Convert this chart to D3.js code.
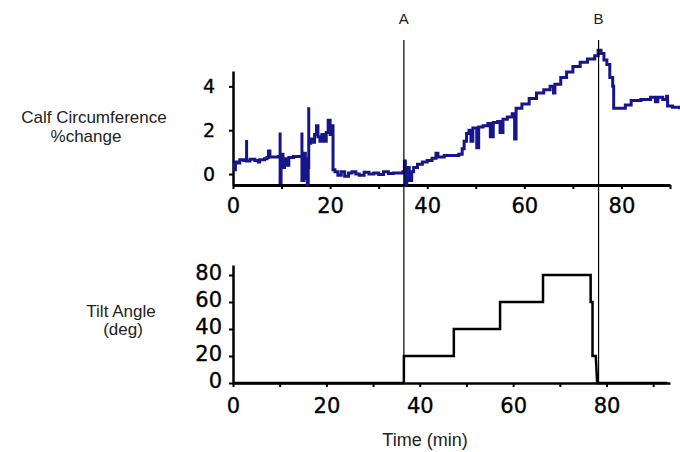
<!DOCTYPE html>
<html>
<head>
<meta charset="utf-8">
<script src="https://cdn.jsdelivr.net/npm/d3@7/dist/d3.min.js"></script>
<style>
  html, body { margin: 0; padding: 0; background: #fff; }
  .tick text { font-family: "DejaVu Sans", sans-serif; fill: #000; stroke: #000; stroke-width: 0.35px; }
  .lbl { font-family: "Liberation Sans", Arial, sans-serif; fill: #222; }
</style>
</head>
<body>
<div id="chart"></div>
<script>
// calf circumference % change vs time (min)
const calfTime = [0, 0.3, 0.5, 1.0, 1.4, 2.2, 2.8, 2.8, 2.8, 3.5, 4.5, 5.2, 5.5, 6.5, 7.0, 7.3, 7.6, 8.5, 9.4, 9.7, 9.7, 9.7,
  9.9, 10.3, 10.6, 11.0, 11.5, 12.5, 13.5, 14.2, 14.2, 14.2, 14.6, 14.9, 15.1, 15.3, 15.5, 15.6, 15.6, 16.0, 16.4, 16.8,
  17.2, 17.5, 17.9, 18.3, 18.7, 19.2, 19.6, 20.0, 20.4, 20.6, 21.0, 21.6, 22.3, 23.0, 23.8, 24.5, 25.3, 26.0, 27.0, 28.0,
  29.0, 30.0, 31.0, 32.0, 33.0, 34.0, 35.0, 35.3, 35.5, 35.8, 36.3, 36.8, 37.2, 38.0, 39.0, 40.0, 41.0, 41.8, 42.2, 43.5,
  45.0, 46.5, 47.2, 47.6, 48.1, 48.6, 49.0, 49.4, 50.2, 50.6, 51.5, 52.5, 53.0, 53.6, 54.5, 55.0, 55.6, 56.5, 57.5, 58.0,
  58.3, 59.5, 61.0, 62.5, 64.0, 65.3, 66.0, 66.3, 67.5, 68.7, 70.0, 71.5, 73.0, 74.5, 75.2, 75.8, 76.4, 77.0, 77.6, 78.2,
  78.4, 80.0, 80.8, 82.0, 84.0, 86.0, 87.0, 87.5, 88.5, 89.3, 89.5, 90.5, 92.0];
const calfPct = [0.45, 0.2, 0.55, 0.5, 0.65, 0.62, 0.62, 1.55, 0.6, 0.68, 0.62, 0.55, 0.65, 0.7, 0.75, 1.05, 0.78, 0.78, 0.8, 0.8, 1.9, -0.4,
  0.9, 0.3, 0.7, 0.4, 0.75, 0.8, 0.8, 0.8, 1.9, -0.3, 0.95, -0.2, 0.7, -0.5, 0.3, 3.05, 1.4, 1.6, 1.45, 1.8,
  2.2, 1.7, 1.5, 1.8, 1.5, 1.9, 2.45, 1.8, 2.2, 0.2, 0.1, -0.05, 0.1, -0.1, 0.05, 0.1, 0.0, -0.05, 0.08, 0.0,
  0.05, -0.02, 0.1, 0.02, 0.05, 0.05, 0.1, 0.6, -0.5, 0.3, -0.3, 0.1, 0.3, 0.45, 0.55, 0.62, 0.72, 0.95, 0.78, 0.85,
  0.85, 0.9, 1.15, 1.5, 1.85, 2.0, 1.5, 2.1, 1.2, 2.15, 2.2, 2.3, 1.7, 2.35, 2.4, 1.9, 2.5, 2.6, 2.75, 1.6,
  3.0, 3.2, 3.45, 3.7, 3.85, 4.0, 3.7, 4.1, 4.4, 4.65, 4.9, 5.1, 5.25, 5.4, 5.65, 5.5, 5.2, 5.0, 4.4, 4.0,
  3.0, 3.0, 3.15, 3.35, 3.4, 3.5, 3.3, 3.5, 3.4, 3.55, 3.1, 3.05, 2.95];

// tilt angle (deg) vs time (min)
const tiltTime = [0, 36.6, 36.6, 47.3, 47.3, 57.2, 57.2, 66.4, 66.4, 76.6, 76.6, 77.0, 77.0, 77.7, 78.0, 93];
const tiltDeg = [0, 0, 20, 20, 40, 40, 60, 60, 80, 80, 60, 60, 20, 20, 0, 0];

// event markers
const markerNames = ['A', 'B'];
const markerTimes = [36.6, 78.3];

const xTicks = [0, 10, 20, 30, 40, 50, 60, 70, 80, 90];
const xLabels = [0, 20, 40, 60, 80];
const calfTicks = [0, 2, 4];
const tiltTicks = [0, 20, 40, 60, 80];

const W = 680, H = 452;

const svg = d3.select('#chart')
  .append('svg')
  .attr('width', W)
  .attr('height', H);

// scales (the two panels were not scaled the same in the original)
const xTop = d3.scaleLinear().domain([0, 90]).range([233, 670]);
const yTop = d3.scaleLinear().domain([-0.5, 4.7]).range([185, 71]);
const xBot = d3.scaleLinear().domain([0, 93.6]).range([233, 670]);
const yBot = d3.scaleLinear().domain([0, 87.4]).range([383, 265]);

const fmtX = d => (xLabels.includes(d) ? d : '');

// top panel axes
svg.append('g')
  .attr('transform', `translate(0,${yTop(-0.5)})`)
  .call(d3.axisBottom(xTop).tickValues(xTicks).tickFormat(fmtX).tickSize(4).tickPadding(9).tickSizeOuter(0))
  .call(g => g.select('.domain').attr('stroke', '#000').attr('stroke-width', 3))
  .call(g => g.selectAll('.tick line').attr('stroke', '#000').attr('stroke-width', 2))
  .call(g => g.selectAll('.tick text').style('font-size', '21px'));

svg.append('g')
  .attr('transform', `translate(${xTop(0)},0)`)
  .call(d3.axisLeft(yTop).tickValues(calfTicks).tickFormat(d3.format('d')).tickSize(4).tickPadding(14).tickSizeOuter(0))
  .call(g => g.select('.domain').attr('stroke', '#000').attr('stroke-width', 2.5))
  .call(g => g.selectAll('.tick line').attr('stroke', '#000').attr('stroke-width', 2))
  .call(g => g.selectAll('.tick text').style('font-size', '19px'));

// bottom panel axes
svg.append('g')
  .attr('transform', `translate(0,${yBot(0)})`)
  .call(d3.axisBottom(xBot).tickValues(xTicks).tickFormat(fmtX).tickSize(4).tickPadding(11).tickSizeOuter(0))
  .call(g => g.select('.domain').attr('stroke', '#000').attr('stroke-width', 2.5))
  .call(g => g.selectAll('.tick line').attr('stroke', '#000').attr('stroke-width', 2))
  .call(g => g.selectAll('.tick text').style('font-size', '21px'));

svg.append('g')
  .attr('transform', `translate(${xBot(0)},0)`)
  .call(d3.axisLeft(yBot).tickValues(tiltTicks).tickSize(4).tickPadding(7).tickSizeOuter(0))
  .call(g => g.select('.domain').attr('stroke', '#000').attr('stroke-width', 2.5))
  .call(g => g.selectAll('.tick line').attr('stroke', '#000').attr('stroke-width', 2))
  .call(g => g.selectAll('.tick text').style('font-size', '21px').attr('dy', '0.22em'));

// calf line, drawn as steps like the logger output
const calfData = calfTime.map((t, i) => ({ t: t, v: calfPct[i] }));
svg.append('path')
  .datum(calfData)
  .attr('fill', 'none')
  .attr('stroke', '#16168a')
  .attr('stroke-width', 3)
  .attr('d', d3.line().curve(d3.curveStepAfter).x(d => xTop(d.t)).y(d => yTop(d.v)));

// tilt line
const tiltData = tiltTime.map((t, i) => ({ t: t, v: tiltDeg[i] }));
svg.append('path')
  .datum(tiltData)
  .attr('fill', 'none')
  .attr('stroke', '#000')
  .attr('stroke-width', 2.5)
  .attr('d', d3.line().x(d => xBot(d.t)).y(d => yBot(d.v)));

// marker lines A and B
markerTimes.forEach((t, i) => {
  svg.append('line')
    .attr('x1', xBot(t)).attr('x2', xBot(t))
    .attr('y1', 40).attr('y2', yBot(0))
    .attr('stroke', '#000')
    .attr('stroke-width', 1.2);
  svg.append('text')
    .attr('class', 'lbl')
    .attr('x', xBot(t))
    .attr('y', 24)
    .attr('text-anchor', 'middle')
    .style('font-size', '15px')
    .text(markerNames[i]);
});

// titles
svg.append('text').attr('class', 'lbl')
  .attr('x', 94).attr('y', 123).attr('text-anchor', 'middle')
  .style('font-size', '17px').text('Calf Circumference');
svg.append('text').attr('class', 'lbl')
  .attr('x', 86).attr('y', 142).attr('text-anchor', 'middle')
  .style('font-size', '17px').text('%change');
svg.append('text').attr('class', 'lbl')
  .attr('x', 121).attr('y', 317).attr('text-anchor', 'middle')
  .style('font-size', '17px').text('Tilt Angle');
svg.append('text').attr('class', 'lbl')
  .attr('x', 123).attr('y', 335).attr('text-anchor', 'middle')
  .style('font-size', '17px').text('(deg)');
svg.append('text').attr('class', 'lbl')
  .attr('x', 425).attr('y', 446).attr('text-anchor', 'middle')
  .style('font-size', '18px').text('Time (min)');
</script>
</body>
</html>
